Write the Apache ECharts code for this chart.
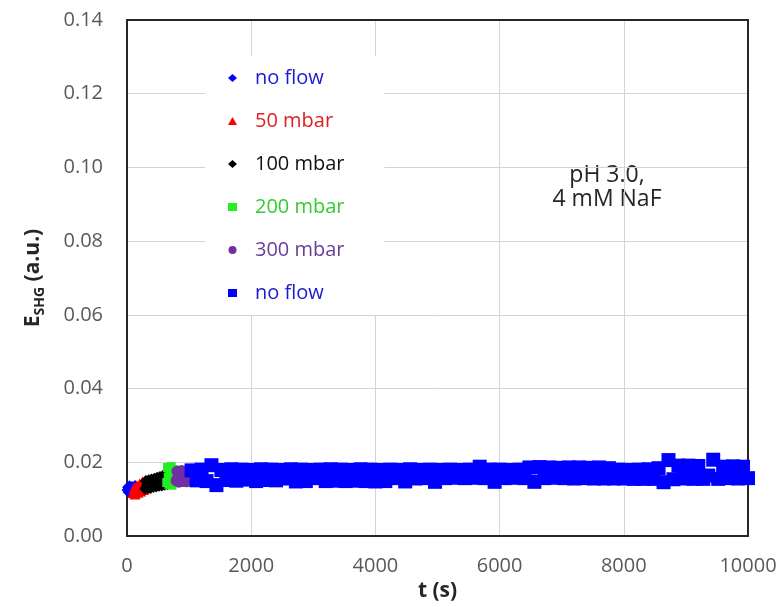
<!DOCTYPE html>
<html>
<head>
<meta charset="utf-8">
<script src="https://cdn.jsdelivr.net/npm/echarts@6/dist/echarts.min.js"></script>
<style>
  html, body { margin: 0; padding: 0; background: #fff; }
  #chart { width: 781px; height: 607px; }
</style>
</head>
<body>
<div id="chart"></div>
<script>
// Axis ticks
const xTicks = [0, 2000, 4000, 6000, 8000, 10000];
const yTicks = [0.00, 0.02, 0.04, 0.06, 0.08, 0.10, 0.12, 0.14];

// Series keys and the labels shown in the legend
const seriesKeys = ['noFlowBefore', 'flow50', 'flow100', 'flow200', 'flow300', 'noFlowAfter'];
const legendLabels = ['no flow', '50 mbar', '100 mbar', '200 mbar', '300 mbar', 'no flow'];

// Measurements: [t (s), E_SHG (a.u.)]
const noFlowBefore = [
  [0, 0.0125], [10, 0.0132], [20, 0.0119], [30, 0.0128], [40, 0.0136],
  [50, 0.0122], [60, 0.0130], [70, 0.0118], [80, 0.0134], [90, 0.0126],
  [100, 0.0121], [110, 0.0131], [120, 0.0124], [130, 0.0137], [140, 0.0127]
];
const flow50 = [
  [100, 0.0118], [115, 0.0130], [130, 0.0114], [145, 0.0124], [160, 0.0136],
  [175, 0.0119], [190, 0.0128], [205, 0.0142], [220, 0.0122], [235, 0.0133],
  [250, 0.0147], [265, 0.0126], [280, 0.0138], [295, 0.0150], [310, 0.0130],
  [325, 0.0141], [340, 0.0135]
];
const flow100 = [
  [290, 0.0128], [305, 0.0149], [320, 0.0138], [335, 0.0130], [350, 0.0151],
  [365, 0.0140], [380, 0.0131], [395, 0.0153], [410, 0.0142], [425, 0.0133],
  [440, 0.0155], [455, 0.0144], [470, 0.0134], [485, 0.0158], [500, 0.0146],
  [515, 0.0136], [530, 0.0160], [545, 0.0148], [560, 0.0137], [575, 0.0163],
  [590, 0.0150], [605, 0.0139], [620, 0.0166], [635, 0.0153], [650, 0.0141],
  [660, 0.0168]
];
const flow200 = [
  [640, 0.0145], [652, 0.0186], [664, 0.0160], [676, 0.0140], [688, 0.0175],
  [700, 0.0152], [712, 0.0188], [724, 0.0138], [736, 0.0168], [748, 0.0148],
  [760, 0.0180], [772, 0.0157], [784, 0.0170]
];
const flow300 = [
  [790, 0.0150], [805, 0.0176], [820, 0.0162], [835, 0.0146], [850, 0.0170],
  [865, 0.0156], [880, 0.0178], [895, 0.0148], [910, 0.0166], [925, 0.0158],
  [940, 0.0174], [955, 0.0147], [970, 0.0168], [985, 0.0154], [1000, 0.0177],
  [1015, 0.0150], [1030, 0.0164]
];
const noFlowAfter = [
  [1040, 0.0178], [1120, 0.0151], [1200, 0.0180], [1280, 0.0149], [1360, 0.0192],
  [1440, 0.0138], [1520, 0.0179], [1600, 0.0152], [1680, 0.0181], [1760, 0.0150],
  [1840, 0.0180], [1920, 0.0153], [2000, 0.0179], [2080, 0.0149], [2160, 0.0181],
  [2240, 0.0152], [2320, 0.0180], [2400, 0.0151], [2480, 0.0179], [2560, 0.0156],
  [2640, 0.0181], [2720, 0.0148], [2800, 0.0180], [2880, 0.0149], [2960, 0.0179],
  [3040, 0.0157], [3120, 0.0180], [3200, 0.0149], [3280, 0.0181], [3360, 0.0150],
  [3440, 0.0180], [3520, 0.0149], [3600, 0.0179], [3680, 0.0150], [3760, 0.0181],
  [3840, 0.0149], [3920, 0.0180], [4000, 0.0148], [4080, 0.0179], [4160, 0.0149],
  [4240, 0.0180], [4320, 0.0157], [4400, 0.0179], [4480, 0.0148], [4560, 0.0181],
  [4640, 0.0156], [4720, 0.0179], [4800, 0.0157], [4880, 0.0180], [4960, 0.0147],
  [5040, 0.0179], [5120, 0.0157], [5200, 0.0180], [5280, 0.0158], [5360, 0.0179],
  [5440, 0.0157], [5520, 0.0180], [5600, 0.0158], [5680, 0.0188], [5760, 0.0157],
  [5840, 0.0180], [5920, 0.0147], [6000, 0.0180], [6080, 0.0157], [6160, 0.0179],
  [6240, 0.0158], [6320, 0.0180], [6400, 0.0157], [6480, 0.0186], [6560, 0.0147],
  [6640, 0.0187], [6720, 0.0157], [6800, 0.0186], [6880, 0.0158], [6960, 0.0185],
  [7040, 0.0157], [7120, 0.0186], [7200, 0.0156], [7280, 0.0186], [7360, 0.0157],
  [7440, 0.0185], [7520, 0.0156], [7600, 0.0186], [7680, 0.0156], [7760, 0.0184],
  [7840, 0.0156], [7920, 0.0180], [8000, 0.0156], [8080, 0.0179], [8160, 0.0155],
  [8240, 0.0180], [8320, 0.0155], [8400, 0.0181], [8480, 0.0155], [8560, 0.0184],
  [8640, 0.0146], [8720, 0.0206], [8800, 0.0154], [8880, 0.0191], [8960, 0.0156],
  [9040, 0.0191], [9120, 0.0155], [9200, 0.0190], [9280, 0.0155], [9360, 0.0164],
  [9440, 0.0207], [9520, 0.0155], [9600, 0.0188], [9680, 0.0157], [9760, 0.0189],
  [9840, 0.0156], [9920, 0.0188], [10000, 0.0157]
];

const seriesData = [noFlowBefore, flow50, flow100, flow200, flow300, noFlowAfter];
const seriesColors = ['#0000ff', '#ff0000', '#000000', '#22ee22', '#7030a0', '#0000ff'];
const legendTextColors = ['#1a1ad0', '#e02020', '#111111', '#33cc33', '#6a3d9a', '#1a1ad0'];
const seriesSymbols = ['diamond', 'triangle', 'diamond', 'rect', 'circle', 'rect'];
const seriesSizes = [11, 11, 12, 9, 11, 14];

const FONT = '"Open Sans", "Liberation Sans", sans-serif';
const chart = echarts.init(document.getElementById('chart'), null, { renderer: 'canvas' });

const series = seriesKeys.map((key, i) => ({
  name: key,
  type: 'scatter',
  data: seriesData[i],
  symbol: seriesSymbols[i],
  symbolSize: seriesSizes[i],
  itemStyle: { color: seriesColors[i], opacity: 1, borderWidth: 0 },
  emphasis: { disabled: true },
  z: 2 + i
}));

chart.setOption({
  animation: false,
  backgroundColor: '#ffffff',
  textStyle: { fontFamily: FONT },
  grid: { left: 127, right: 33, top: 20, bottom: 71, containLabel: false },
  xAxis: [{
    type: 'value',
    min: xTicks[0],
    max: xTicks[xTicks.length - 1],
    interval: xTicks[1] - xTicks[0],
    name: 't (s)',
    nameLocation: 'middle',
    nameGap: 45,
    nameTextStyle: { fontFamily: FONT, fontSize: 21, fontWeight: 'bold', color: '#262626' },
    axisLine: { show: true, onZero: false, lineStyle: { color: '#262626', width: 2 } },
    axisTick: { show: false },
    axisLabel: { fontFamily: FONT, fontSize: 20, color: '#595959', margin: 20, formatter: v => String(v) },
    splitLine: { show: true, lineStyle: { color: '#d4d4d4', width: 1 } }
  }, {
    type: 'value',
    position: 'top',
    min: xTicks[0],
    max: xTicks[xTicks.length - 1],
    axisLine: { show: true, onZero: false, lineStyle: { color: '#262626', width: 2 } },
    axisTick: { show: false },
    axisLabel: { show: false },
    splitLine: { show: false }
  }],
  yAxis: [{
    type: 'value',
    min: yTicks[0],
    max: yTicks[yTicks.length - 1],
    interval: yTicks[1] - yTicks[0],
    name: '{e|E}{sub|SHG}{e| (a.u.)}',
    nameLocation: 'middle',
    nameRotate: 90,
    nameGap: 80,
    nameTextStyle: {
      rich: {
        e: { fontFamily: FONT, fontSize: 21, fontWeight: 'bold', color: '#262626', lineHeight: 28 },
        sub: { fontFamily: FONT, fontSize: 14, fontWeight: 'bold', color: '#262626', verticalAlign: 'bottom', lineHeight: 28 }
      }
    },
    axisLine: { show: true, onZero: false, lineStyle: { color: '#262626', width: 2 } },
    axisTick: { show: false },
    axisLabel: {
      fontFamily: FONT, fontSize: 20, color: '#595959', margin: 24,
      formatter: v => v.toFixed(2)
    },
    splitLine: { show: true, lineStyle: { color: '#d4d4d4', width: 1 } }
  }, {
    type: 'value',
    position: 'right',
    min: yTicks[0],
    max: yTicks[yTicks.length - 1],
    axisLine: { show: true, onZero: false, lineStyle: { color: '#262626', width: 2 } },
    axisTick: { show: false },
    axisLabel: { show: false },
    splitLine: { show: false }
  }],
  legend: {
    orient: 'vertical',
    left: 205,
    top: 56,
    padding: [12, 40, 12, 23],
    itemGap: 23,
    itemWidth: 9,
    itemHeight: 8,
    backgroundColor: '#ffffff',
    selectedMode: false,
    formatter: name => legendLabels[seriesKeys.indexOf(name)],
    textStyle: { fontFamily: FONT, fontSize: 20, padding: [0, 0, 0, 13] },
    data: seriesKeys.map((key, i) => ({
      name: key,
      icon: seriesSymbols[i],
      textStyle: { color: legendTextColors[i] }
    }))
  },
  graphic: [{
    type: 'group',
    left: 545,
    top: 142,
    z: 100,
    children: [{
      type: 'rect',
      shape: { x: 0, y: 0, width: 125, height: 82 },
      style: { fill: '#ffffff' }
    }, {
      type: 'text',
      x: 62,
      y: 45,
      style: {
        text: 'pH 3.0,\n4 mM NaF',
        font: '23px ' + FONT,
        fill: '#262626',
        align: 'center',
        verticalAlign: 'middle',
        lineHeight: 24
      }
    }]
  }],
  series: series
});
</script>
</body>
</html>
